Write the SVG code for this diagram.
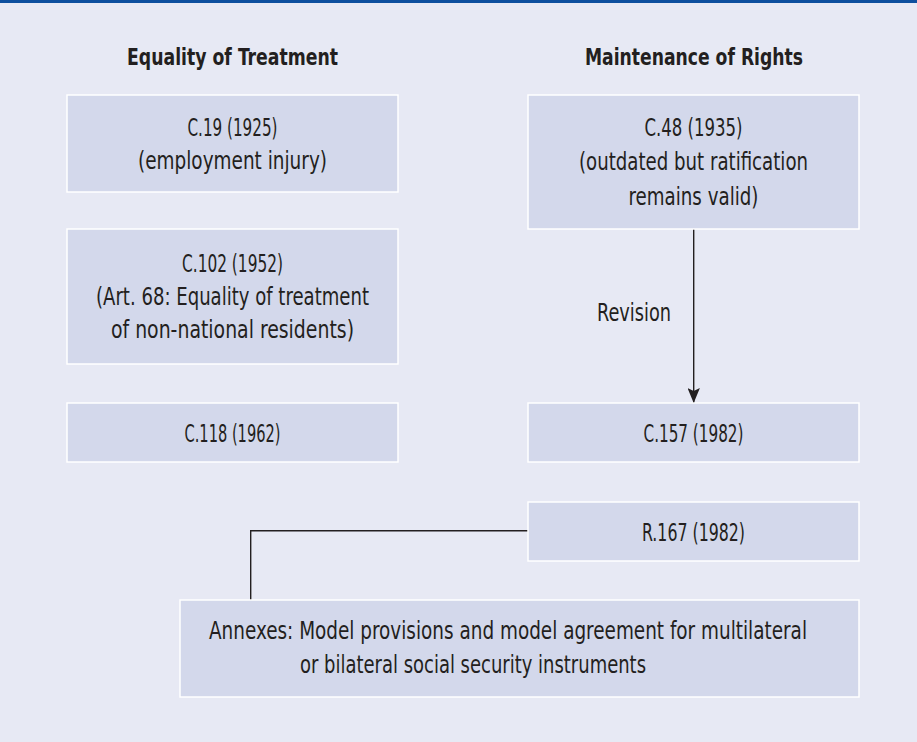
<svg xmlns="http://www.w3.org/2000/svg" width="917" height="742" viewBox="0 0 917 742">
<defs>
<style>
.bg{fill:#E7E9F4}
.box{fill:#D3D8EB;stroke:#FFFFFF;stroke-width:1.5}
.t{font-family:"Liberation Sans Narrow","Arial Narrow","DejaVu Sans Condensed",sans-serif;font-size:24px;fill:#231F20;text-anchor:middle}
.h{font-family:"Liberation Sans Narrow","Arial Narrow","DejaVu Sans Condensed",sans-serif;font-size:23px;font-weight:bold;fill:#231F20;text-anchor:middle}
.ln{fill:none;stroke:#231F20;stroke-width:1.4}
</style>
<marker id="ah" markerWidth="15" markerHeight="12.4" refX="15" refY="6.2" orient="auto" markerUnits="userSpaceOnUse" viewBox="0 0 15 12.4">
<path d="M0,0 L15,6.2 L0,12.4 L3,6.2 Z" fill="#231F20"/>
</marker>
</defs>
<rect class="bg" x="0" y="0" width="917" height="742"/>
<rect x="0" y="0" width="917" height="3" fill="#0D4F9E"/>

<g id="header-equality"><text class="h" x="232.5" y="65" textLength="211" lengthAdjust="spacingAndGlyphs">Equality of Treatment</text></g>
<g id="header-maintenance"><text class="h" x="694" y="65" textLength="218" lengthAdjust="spacingAndGlyphs">Maintenance of Rights</text></g>

<g id="connectors">
<line class="ln" x1="693.7" y1="229" x2="693.7" y2="403" marker-end="url(#ah)"/>
<polyline class="ln" points="528,530.7 250.7,530.7 250.7,600"/>
<text class="t" x="634" y="320.5" textLength="74" lengthAdjust="spacingAndGlyphs">Revision</text>
</g>

<g id="c19">
<rect class="box" x="67" y="95" width="331" height="97"/>
<text class="t" x="232.5" y="136" textLength="90" lengthAdjust="spacingAndGlyphs">C.19 (1925)</text>
<text class="t" x="232.5" y="169" textLength="189" lengthAdjust="spacingAndGlyphs">(employment injury)</text>
</g>
<g id="c102">
<rect class="box" x="67" y="229" width="331" height="135"/>
<text class="t" x="232.5" y="272" textLength="101" lengthAdjust="spacingAndGlyphs">C.102 (1952)</text>
<text class="t" x="232.5" y="305" textLength="273" lengthAdjust="spacingAndGlyphs">(Art. 68: Equality of treatment</text>
<text class="t" x="232.5" y="338" textLength="243" lengthAdjust="spacingAndGlyphs">of non-national residents)</text>
</g>
<g id="c118">
<rect class="box" x="67" y="403" width="331" height="59"/>
<text class="t" x="232.5" y="442" textLength="96" lengthAdjust="spacingAndGlyphs">C.118 (1962)</text>
</g>
<g id="c48">
<rect class="box" x="528" y="95" width="331" height="134"/>
<text class="t" x="693.5" y="136" textLength="98" lengthAdjust="spacingAndGlyphs">C.48 (1935)</text>
<text class="t" x="693.5" y="170" textLength="229" lengthAdjust="spacingAndGlyphs">(outdated but ratification</text>
<text class="t" x="693.5" y="205" textLength="130" lengthAdjust="spacingAndGlyphs">remains valid)</text>
</g>
<g id="c157">
<rect class="box" x="528" y="403" width="331" height="59"/>
<text class="t" x="693.5" y="442" textLength="100" lengthAdjust="spacingAndGlyphs">C.157 (1982)</text>
</g>
<g id="r167">
<rect class="box" x="528" y="502" width="331" height="59"/>
<text class="t" x="693.5" y="540.5" textLength="103" lengthAdjust="spacingAndGlyphs">R.167 (1982)</text>
</g>
<g id="annexes">
<rect class="box" x="180" y="600" width="679" height="97"/>
<text class="t" x="508" y="639" textLength="598" lengthAdjust="spacingAndGlyphs">Annexes: Model provisions and model agreement for multilateral</text>
<text class="t" x="473" y="673" textLength="346" lengthAdjust="spacingAndGlyphs">or bilateral social security instruments</text>
</g>
</svg>
